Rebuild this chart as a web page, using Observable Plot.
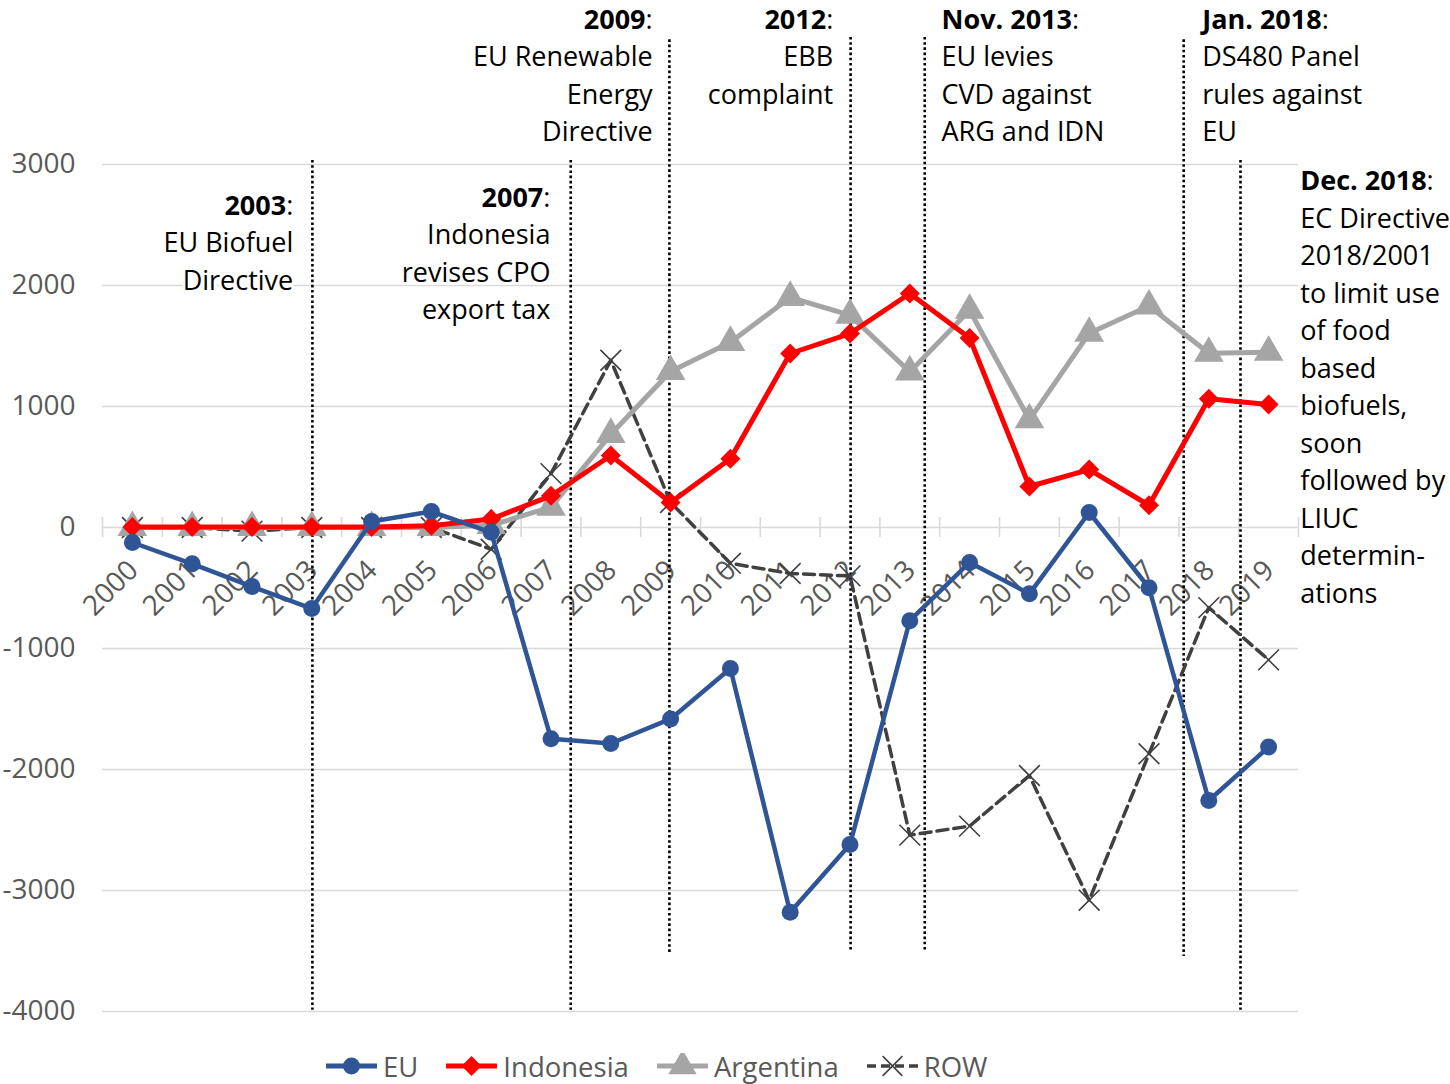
<!DOCTYPE html>
<html>
<head>
<meta charset="utf-8">
<script src="https://cdn.jsdelivr.net/npm/d3@7"></script>
<script src="https://cdn.jsdelivr.net/npm/@observablehq/plot@0.6"></script>
<style>
  body { margin: 0; background: #fff; font-family: "Open Sans", sans-serif; }
  #grafico { width: 1450px; }
  #leyenda { display: flex; align-items: center; height: 44px; padding-left: 325px; padding-top: 4px;
             font-size: 27.5px; color: #595959; }
  #leyenda .item { display: flex; align-items: center; margin-right: 27px; }
  #leyenda svg { margin-right: 5px; }
</style>
</head>
<body>
<div id="grafico"></div>
<div id="leyenda"></div>
<script>
// años (categorías del eje x)
const years = [2000, 2001, 2002, 2003, 2004, 2005, 2006, 2007, 2008, 2009,
               2010, 2011, 2012, 2013, 2014, 2015, 2016, 2017, 2018, 2019];

// series
const eu        = [-124, -300, -488, -670, 50, 132, -40, -1745, -1785, -1582,
                   -1165, -3180, -2620, -770, -289, -548, 124, -498, -2256, -1814];
const indonesia = [5, 5, 5, 5, 5, 15, 70, 262, 595, 207,
                   568, 1438, 1603, 1934, 1566, 339, 479, 184, 1064, 1017];
const argentina = [0, 0, 0, 0, 0, 0, 18, 168, 770, 1289,
                   1530, 1901, 1755, 1286, 1795, 890, 1605, 1830, 1440, 1448];
const row       = [0, 0, -30, 0, 0, 0, -180, 445, 1382, 207,
                   -296, -380, -400, -2542, -2468, -2050, -3080, -1870, -662, -1094];

const seriesNames = ["EU", "Indonesia", "Argentina", "ROW"];
const yTicks = [-4000, -3000, -2000, -1000, 0, 1000, 2000, 3000];
const tickEdges = [1999.5, 2000.5, 2001.5, 2002.5, 2003.5, 2004.5, 2005.5, 2006.5,
                   2007.5, 2008.5, 2009.5, 2010.5, 2011.5, 2012.5, 2013.5, 2014.5,
                   2015.5, 2016.5, 2017.5, 2018.5, 2019.5];

// eventos: posición en el eje x y extremos de la línea punteada
const eventX      = [2003.01, 2007.33, 2008.98, 2012.01, 2013.25, 2017.58, 2018.53];
const eventTop    = [3033, 3033, 4030, 4050, 4050, 4030, 3033];
const eventBottom = [-3990, -3990, -3530, -3510, -3510, -3545, -3990];

// anotaciones: encabezado en negrita + texto
const notaTitulo = ["2003:", "2007:", "2009:", "2012:", "Nov. 2013:", "Jan. 2018:", "Dec. 2018:"];
const notaTexto = [
  "EU Biofuel\nDirective",
  "Indonesia\nrevises CPO\nexport tax",
  "EU Renewable\nEnergy\nDirective",
  "EBB\ncomplaint",
  "EU levies\nCVD against\nARG and IDN",
  "DS480 Panel\nrules against\nEU",
  "EC Directive\n2018/2001\nto limit use\nof food\nbased\nbiofuels,\nsoon\nfollowed by\nLIUC\ndetermin-\nations"
];
const notaX     = [2002.69, 2006.99, 2008.70, 2011.72, 2013.53, 2017.89, 2019.53];
const notaY     = [2744, 2810, 4280, 4280, 4280, 4280, 2944];
const notaAlign = ["end", "end", "end", "end", "start", "start", "start"];

const colores = {EU: "#2F5597", Indonesia: "#FF0000", Argentina: "#A5A5A5", ROW: "#404040"};

const rows = [];
years.forEach((yr, i) => {
  rows.push({year: yr, serie: "EU", value: eu[i]});
  rows.push({year: yr, serie: "Indonesia", value: indonesia[i]});
  rows.push({year: yr, serie: "Argentina", value: argentina[i]});
  rows.push({year: yr, serie: "ROW", value: row[i]});
});
const porSerie = s => rows.filter(d => d.serie === s);

const eventos = eventX.map((x, i) => ({x, top: eventTop[i], bottom: eventBottom[i]}));
const notas = notaTitulo.map((t, i) => ({titulo: t, texto: notaTexto[i], x: notaX[i], y: notaY[i], align: notaAlign[i]}));

const fuente = "Open Sans";
const tamNota = 27;
const interlinea = 37.5;
const notaMarks = [];
["start", "end"].forEach(al => {
  const sub = notas.filter(d => d.align === al);
  notaMarks.push(
    Plot.text(sub, {x: "x", y: "y", text: "titulo", textAnchor: al, lineAnchor: "top",
      fontSize: tamNota, fontWeight: "bold", fill: "black"}),
    // con lineAnchor top Plot baja la primera línea 0.71 * lineHeight em; se compensa en dy
    Plot.text(sub, {x: "x", y: "y", text: "texto", textAnchor: al, lineAnchor: "top",
      dy: interlinea - 0.71 * (interlinea - tamNota), lineHeight: interlinea / tamNota,
      fontSize: tamNota, fill: "black", stroke: "white", strokeWidth: 6})
  );
});

const chart = Plot.plot({
  width: 1450,
  height: 1040,
  marginLeft: 102,
  marginRight: 152,
  marginTop: 164,
  marginBottom: 29,
  style: {fontFamily: fuente, background: "white", overflow: "visible"},
  x: {domain: [1999.5, 2019.5], axis: null},
  y: {domain: [-4000, 3000], axis: null},
  marks: [
    Plot.ruleY(yTicks, {stroke: "#D9D9D9", strokeWidth: 1.6}),
    Plot.ruleX(tickEdges, {x: d => d, y1: 0, y2: 0, insetTop: -10, insetBottom: -10,
      stroke: "#D9D9D9", strokeWidth: 1.6}),
    Plot.axisY({ticks: yTicks, tickSize: 0, tickPadding: 27, tickFormat: d => String(d),
      fontSize: 28, color: "#595959", label: null}),
    Plot.text(years, {x: d => d, y: 0, text: d => String(d), rotate: -45, textAnchor: "end",
      dx: 1, dy: 38, fontSize: 28, fill: "#595959"}),
    Plot.ruleX(eventos, {x: "x", y1: "top", y2: "bottom", stroke: "black",
      strokeWidth: 2.6, strokeDasharray: "2.6,2.6"}),
    // series
    Plot.line(porSerie("ROW"), {x: "year", y: "value", stroke: colores.ROW,
      strokeWidth: 3.5, strokeDasharray: "11,6"}),
    Plot.dot(porSerie("ROW"), {x: "year", y: "value", symbol: "times", r: 9.5,
      stroke: colores.ROW, strokeWidth: 1.6}),
    Plot.line(porSerie("Argentina"), {x: "year", y: "value", stroke: colores.Argentina, strokeWidth: 5}),
    Plot.dot(porSerie("Argentina"), {x: "year", y: "value", symbol: "triangle", r: 11,
      fill: colores.Argentina}),
    Plot.line(porSerie("Indonesia"), {x: "year", y: "value", stroke: colores.Indonesia, strokeWidth: 5}),
    Plot.dot(porSerie("Indonesia"), {x: "year", y: "value", symbol: "diamond2", r: 9,
      fill: colores.Indonesia}),
    Plot.line(porSerie("EU"), {x: "year", y: "value", stroke: colores.EU, strokeWidth: 4.5}),
    Plot.dot(porSerie("EU"), {x: "year", y: "value", symbol: "circle", r: 8.5,
      fill: colores.EU}),
    ...notaMarks
  ]
});

// el año en negrita, los dos puntos en normal
d3.select(chart).selectAll("text").each(function () {
  const t = d3.select(this);
  const s = t.text();
  if (!notaTitulo.includes(s)) return;
  t.text(null);
  t.append("tspan").attr("font-weight", "bold").text(s.replace(/:$/, ""));
  t.append("tspan").attr("font-weight", "normal").style("font-weight", "normal").text(":");
});

d3.select("#grafico").append(() => chart);

// leyenda
const leyenda = d3.select("#leyenda");
seriesNames.forEach(s => {
  const item = leyenda.append("div").attr("class", "item");
  const svg = item.append("svg").attr("width", 53).attr("height", 26);
  const line = svg.append("line").attr("x1", 1).attr("x2", 52).attr("y1", 13).attr("y2", 13)
    .attr("stroke", colores[s]).attr("stroke-width", s === "ROW" ? 3.5 : 5);
  if (s === "ROW") line.attr("stroke-dasharray", "9,5");
  const sym = {EU: d3.symbolCircle, Indonesia: d3.symbolDiamond2, Argentina: d3.symbolTriangle, ROW: d3.symbolTimes}[s];
  const r = {EU: 8.5, Indonesia: 9, Argentina: 10.5, ROW: 9}[s];
  const p = svg.append("path").attr("transform", "translate(26.5,13)")
    .attr("d", d3.symbol(sym, Math.PI * r * r)());
  if (s === "ROW") p.attr("fill", "none").attr("stroke", colores.ROW).attr("stroke-width", 1.6);
  else p.attr("fill", colores[s]);
  item.append("span").text(s);
});
</script>
</body>
</html>
